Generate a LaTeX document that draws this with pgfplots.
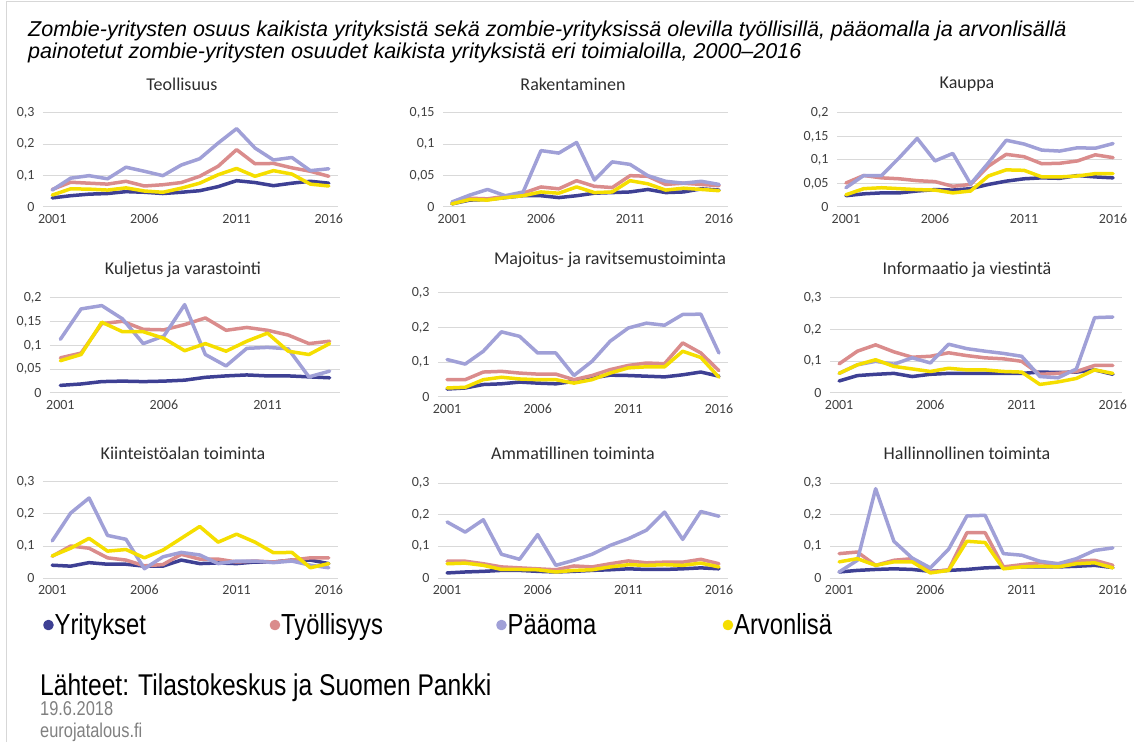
\documentclass[border=0pt]{standalone}
\usepackage{pgfplots}
\pgfplotsset{compat=1.18}
\usepackage{pgfplotstable}
\usepackage{fontspec}
\setmainfont{Carlito}
\newfontfamily\narrow[FakeStretch=0.82]{Liberation Sans}
\newfontfamily\titlefont{Liberation Sans}

\definecolor{cyr}{RGB}{62,64,148}
\definecolor{cty}{RGB}{218,140,140}
\definecolor{cpa}{RGB}{160,160,215}
\definecolor{car}{RGB}{245,222,0}
\definecolor{gridgray}{RGB}{217,217,217}
\definecolor{tickgray}{RGB}{64,64,64}
\definecolor{titlegray}{RGB}{45,45,45}
\definecolor{framegray}{RGB}{215,215,215}

% x yr ty pa ar  (Yritykset, Työllisyys, Pääoma, Arvonlisä)
\pgfplotstableread{
x yr ty pa ar
0 0.029 0.056 0.054 0.038
1 0.036 0.079 0.092 0.058
2 0.041 0.076 0.100 0.057
3 0.043 0.073 0.090 0.054
4 0.049 0.082 0.127 0.061
5 0.047 0.067 0.114 0.051
6 0.043 0.071 0.100 0.047
7 0.047 0.078 0.134 0.060
8 0.052 0.098 0.154 0.076
9 0.065 0.130 0.204 0.103
10 0.084 0.183 0.250 0.123
11 0.078 0.138 0.188 0.098
12 0.068 0.139 0.150 0.116
13 0.076 0.125 0.158 0.105
14 0.082 0.114 0.116 0.073
15 0.076 0.098 0.122 0.067
}\tA
\pgfplotstableread{
x yr ty pa ar
0 0.005 0.007 0.008 0.005
1 0.011 0.014 0.019 0.012
2 0.012 0.013 0.028 0.011
3 0.015 0.017 0.018 0.015
4 0.018 0.022 0.024 0.018
5 0.018 0.032 0.090 0.024
6 0.015 0.029 0.086 0.022
7 0.018 0.042 0.103 0.032
8 0.022 0.033 0.043 0.023
9 0.023 0.031 0.072 0.024
10 0.024 0.050 0.068 0.042
11 0.028 0.049 0.050 0.037
12 0.023 0.036 0.041 0.027
13 0.024 0.038 0.038 0.030
14 0.029 0.036 0.041 0.028
15 0.027 0.034 0.036 0.026
}\tB
\pgfplotstableread{
x yr ty pa ar
0 0.024 0.051 0.041 0.026
1 0.028 0.067 0.067 0.039
2 0.030 0.062 0.067 0.041
3 0.030 0.060 0.105 0.039
4 0.034 0.056 0.146 0.037
5 0.037 0.054 0.098 0.036
6 0.036 0.044 0.114 0.030
7 0.039 0.048 0.049 0.034
8 0.048 0.087 0.094 0.066
9 0.055 0.112 0.142 0.079
10 0.060 0.107 0.134 0.078
11 0.062 0.092 0.121 0.064
12 0.061 0.093 0.119 0.064
13 0.067 0.098 0.126 0.066
14 0.064 0.111 0.125 0.071
15 0.062 0.105 0.135 0.071
}\tC
\pgfplotstableread{
x yr ty pa ar
0 0.016 0.074 0.113 0.068
1 0.019 0.084 0.177 0.081
2 0.024 0.146 0.184 0.149
3 0.025 0.151 0.156 0.129
4 0.024 0.134 0.104 0.129
5 0.025 0.133 0.120 0.115
6 0.027 0.144 0.186 0.089
7 0.033 0.158 0.081 0.104
8 0.036 0.132 0.057 0.088
9 0.038 0.138 0.094 0.109
10 0.036 0.132 0.096 0.126
11 0.036 0.122 0.093 0.088
12 0.034 0.104 0.034 0.081
13 0.032 0.109 0.046 0.104
}\tD
\pgfplotstableread{
x yr ty pa ar
0 0.023 0.050 0.108 0.026
1 0.026 0.050 0.095 0.028
2 0.036 0.072 0.132 0.050
3 0.038 0.074 0.188 0.057
4 0.043 0.069 0.175 0.052
5 0.040 0.066 0.127 0.050
6 0.038 0.066 0.127 0.050
7 0.045 0.050 0.062 0.040
8 0.055 0.062 0.103 0.050
9 0.063 0.079 0.161 0.069
10 0.062 0.091 0.199 0.084
11 0.060 0.098 0.213 0.087
12 0.058 0.096 0.207 0.087
13 0.064 0.156 0.238 0.132
14 0.072 0.127 0.239 0.114
15 0.060 0.076 0.127 0.057
}\tE
\pgfplotstableread{
x yr ty pa ar
0 0.038 0.092 0.062 0.062
1 0.055 0.132 0.089 0.089
2 0.059 0.152 0.100 0.105
3 0.062 0.130 0.091 0.084
4 0.052 0.113 0.111 0.076
5 0.059 0.116 0.095 0.068
6 0.062 0.127 0.154 0.078
7 0.062 0.118 0.140 0.073
8 0.062 0.111 0.132 0.073
9 0.062 0.108 0.125 0.068
10 0.062 0.100 0.116 0.066
11 0.066 0.059 0.052 0.027
12 0.065 0.062 0.048 0.035
13 0.066 0.068 0.076 0.046
14 0.073 0.087 0.238 0.073
15 0.059 0.087 0.240 0.062
}\tF
\pgfplotstableread{
x yr ty pa ar
0 0.040 0.068 0.116 0.069
1 0.037 0.100 0.203 0.093
2 0.048 0.093 0.250 0.124
3 0.043 0.063 0.133 0.084
4 0.043 0.056 0.121 0.089
5 0.037 0.038 0.029 0.063
6 0.037 0.042 0.066 0.087
7 0.056 0.074 0.080 0.124
8 0.045 0.059 0.072 0.161
9 0.047 0.059 0.045 0.112
10 0.045 0.050 0.053 0.137
11 0.050 0.053 0.053 0.112
12 0.050 0.050 0.048 0.079
13 0.056 0.056 0.053 0.080
14 0.056 0.063 0.040 0.032
15 0.045 0.063 0.032 0.045
}\tG
\pgfplotstableread{
x yr ty pa ar
0 0.016 0.053 0.177 0.045
1 0.019 0.053 0.145 0.047
2 0.021 0.045 0.184 0.040
3 0.024 0.035 0.075 0.027
4 0.024 0.032 0.059 0.027
5 0.021 0.029 0.137 0.026
6 0.019 0.026 0.040 0.019
7 0.021 0.038 0.056 0.024
8 0.024 0.035 0.075 0.026
9 0.026 0.045 0.103 0.035
10 0.029 0.054 0.124 0.042
11 0.027 0.048 0.151 0.040
12 0.027 0.050 0.208 0.042
13 0.029 0.050 0.122 0.040
14 0.032 0.059 0.210 0.047
15 0.029 0.045 0.195 0.035
}\tH
\pgfplotstableread{
x yr ty pa ar
0 0.019 0.077 0.019 0.051
1 0.024 0.082 0.056 0.061
2 0.027 0.040 0.282 0.040
3 0.029 0.056 0.116 0.051
4 0.027 0.061 0.063 0.051
5 0.021 0.019 0.032 0.016
6 0.024 0.026 0.091 0.024
7 0.027 0.143 0.196 0.116
8 0.032 0.143 0.198 0.112
9 0.034 0.035 0.077 0.029
10 0.035 0.042 0.072 0.035
11 0.035 0.048 0.053 0.037
12 0.035 0.045 0.045 0.035
13 0.037 0.053 0.061 0.045
14 0.040 0.056 0.087 0.048
15 0.033 0.040 0.095 0.032
}\tI

\pgfplotsset{
  panel/.style={
    scale only axis, anchor=south west,
    xmin=-0.5, xmax=15.5, ymin=0,
    axis line style={draw=none}, major tick style={draw=none},
    ymajorgrids, grid style={color=gridgray, line width=1pt},
    xtick={0,5,10,15}, xticklabels={2001,2006,2011,2016},
    ticklabel style={font=\fontsize{14}{16}\selectfont, text=tickgray},
    yticklabel style={xshift=-5pt},
    xticklabel style={yshift=-4pt},
    clip=false,
  },
  y3/.style={ymax=0.3, ytick={0,0.1,0.2,0.3}, yticklabels={0,{0,1},{0,2},{0,3}}},
  ser/.style={line width=3.5pt, line join=round, line cap=round, mark=none},
}
\newcommand{\fourlines}[1]{%
  \addplot[ser, cyr] table[x=x,y=yr]{#1};
  \addplot[ser, cty] table[x=x,y=ty]{#1};
  \addplot[ser, cpa] table[x=x,y=pa]{#1};
  \addplot[ser, car] table[x=x,y=ar]{#1};
}

\begin{document}
\begin{tikzpicture}[x=1pt,y=1pt]
\path[use as bounding box] (0,0) rectangle (1134,742);
\draw[framegray, line width=1pt] (6,0) -- (6,740) -- (1134,740);

% main title
\node[anchor=base west, font=\titlefont\itshape\fontsize{21.5}{24}\selectfont, text=black, inner sep=0pt] at (28,742-37)
  {Zombie-yritysten osuus kaikista yrityksistä sekä zombie-yrityksissä olevilla työllisillä, pääomalla ja arvonlisällä};
\node[anchor=base west, font=\titlefont\itshape\fontsize{21.5}{24}\selectfont, text=black, inner sep=0pt] at (28,742-59)
  {painotetut zombie-yritysten osuudet kaikista yrityksistä eri toimialoilla, 2000–2016};

% panel titles
\tikzset{ptitle/.style={font=\fontsize{18}{20}\selectfont, text=titlegray, inner sep=0pt}}
\node[ptitle] at (182,742-84) {Teollisuus};
\node[ptitle] at (573,742-84) {Rakentaminen};
\node[ptitle] at (967,742-84) {Kauppa};
\node[ptitle] at (183,742-270) {Kuljetus ja varastointi};
\node[ptitle] at (610,742-260) {Majoitus- ja ravitsemustoiminta};
\node[ptitle] at (967,742-270) {Informaatio ja viestintä};
\node[ptitle] at (183,742-453) {Kiinteistöalan toiminta};
\node[ptitle] at (573,742-453) {Ammatillinen toiminta};
\node[ptitle] at (967,742-453) {Hallinnollinen toiminta};

% row 1
\begin{axis}[panel, y3, at={(43pt,535pt)}, width=295pt, height=94pt]
\fourlines{\tA}
\end{axis}
\begin{axis}[panel, at={(443pt,535pt)}, width=285pt, height=94pt,
  ymax=0.15, ytick={0,0.05,0.1,0.15}, yticklabels={0,{0,05},{0,1},{0,15}}]
\fourlines{\tB}
\end{axis}
\begin{axis}[panel, at={(837pt,535pt)}, width=285pt, height=94pt,
  ymax=0.2, ytick={0,0.05,0.1,0.15,0.2}, yticklabels={0,{0,05},{0,1},{0,15},{0,2}}]
\fourlines{\tC}
\end{axis}
% row 2
\begin{axis}[panel, at={(50pt,349pt)}, width=290pt, height=95pt, xmax=13.5,
  xtick={0,5,10}, xticklabels={2001,2006,2011},
  ymax=0.2, ytick={0,0.05,0.1,0.15,0.2}, yticklabels={0,{0,05},{0,1},{0,15},{0,2}}]
\fourlines{\tD}
\end{axis}
\begin{axis}[panel, y3, at={(438pt,345pt)}, width=290pt, height=104pt]
\fourlines{\tE}
\end{axis}
\begin{axis}[panel, y3, at={(830pt,349pt)}, width=292pt, height=95pt]
\fourlines{\tF}
\end{axis}
% row 3
\begin{axis}[panel, y3, at={(43pt,164pt)}, width=295pt, height=96pt,
  legend style={at={(0,-0.49)}, anchor=west, draw=none, fill=none, inner sep=0pt,
    font=\narrow\fontsize{29}{32}\selectfont, text=black,
    /tikz/column sep=0pt, nodes={inner sep=1pt}},
  legend columns=4,
  legend image code/.code={\fill (0.12cm,0cm) circle (3.5pt);}]
\fourlines{\tG}
\legend{\makebox[214pt][l]{Yritykset},\makebox[214pt][l]{Työllisyys},\makebox[214pt][l]{Pääoma},\makebox[214pt][l]{Arvonlisä}}
\end{axis}
\begin{axis}[panel, y3, at={(438pt,164pt)}, width=290pt, height=95pt]
\fourlines{\tH}
\end{axis}
\begin{axis}[panel, y3, at={(830pt,164pt)}, width=292pt, height=95pt]
\fourlines{\tI}
\end{axis}

% sources
\node[anchor=base west, font=\narrow\fontsize{30}{32}\selectfont, text=black, inner sep=0pt] at (40,742-695)
  {Lähteet: Tilastokeskus ja Suomen Pankki};
\node[anchor=base west, font=\narrow\fontsize{20}{22}\selectfont, text=gray, inner sep=0pt] at (40,742-715)
  {19.6.2018};
\node[anchor=base west, font=\narrow\fontsize{20}{22}\selectfont, text=gray, inner sep=0pt] at (40,742-737)
  {eurojatalous.fi};
\end{tikzpicture}
\end{document}
